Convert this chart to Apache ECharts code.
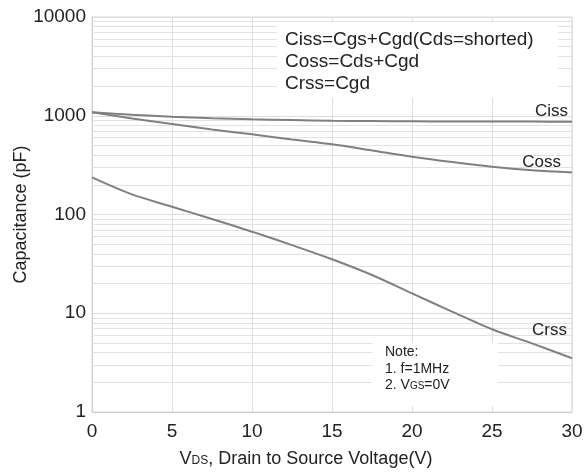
<!DOCTYPE html>
<html><head><meta charset="utf-8">
<script src="https://cdn.jsdelivr.net/npm/echarts@6/dist/echarts.min.js"></script>
<style>html,body{margin:0;padding:0;background:#fff}#c{width:586px;height:473px}</style>
</head><body><div id="c"></div>
<script>
var vds = [0, 2.5, 5, 7.5, 10, 12.5, 15, 17.5, 20, 22.5, 25, 27.5, 30];
var ciss = [1084, 1025, 978, 945, 921, 904, 891, 884, 879, 875, 873, 872, 871];
var coss = [1084, 940, 825, 726, 649, 574, 514, 445, 385, 340, 305, 281, 267];
var crss = [238, 160, 120, 90, 67, 49, 35.2, 24.4, 15.9, 10.4, 6.88, 4.95, 3.5];
var yTicks = [1, 10, 100, 1000, 10000];
var minorGrid = [2,3,4,5,6,7,8,9,20,30,40,50,60,70,80,90,200,300,400,500,600,700,800,900,2000,3000,4000,5000,6000,7000,8000,9000];

function pairs(v){ return vds.map(function(x,i){ return [x, v[i]]; }); }
var font = '"Liberation Sans", Arial, sans-serif';
var chart = echarts.init(document.getElementById('c'));
function lineSeries(name, vals, lbl, off, extra){
  var s = {
    name: name, type: 'line', data: pairs(vals), smooth: 0.3, showSymbol: false, symbol: 'none',
    lineStyle: {color: '#808080', width: 2}, z: 5,
    markPoint: {
      symbol: 'rect', symbolSize: 0, silent: true,
      data: [{coord: [vds[vds.length-1], vals[vals.length-1]],
        label: {show: true, formatter: lbl, position: 'top', align: 'right', offset: off,
          color: '#222', fontSize: 17, fontFamily: font}}]
    }
  };
  if (extra) s.markLine = extra;
  return s;
}
chart.setOption({
  animation: false,
  grid: {left: 92, right: 14, top: 17, bottom: 61, show: true, borderColor: '#d8d8d8', borderWidth: 1, outerBoundsMode: 'none', containLabel: false},
  xAxis: {
    type: 'value', min: 0, max: 30, interval: 5,
    axisLine: {lineStyle: {color: '#d0d0d0'}}, axisTick: {show: false},
    axisLabel: {color: '#222', fontSize: 19, fontFamily: font, margin: 10},
    splitLine: {show: true, lineStyle: {color: '#dedede', width: 1}},
    name: '{v|V}{s|DS}{v|, Drain to Source Voltage(V)}', nameLocation: 'middle', nameGap: 38,
    nameTextStyle: {padding: [0, 52, 0, 0], rich: {v: {fontSize: 18, color: '#222', fontFamily: font}, s: {fontSize: 12, color: '#222', fontFamily: font, padding:[3,0,0,0]}}}
  },
  yAxis: {
    type: 'log', logBase: 10, min: 1, max: 10000,
    axisLine: {show: true, lineStyle: {color: '#d0d0d0'}}, axisTick: {show: false},
    axisLabel: {color: '#222', fontSize: 19, fontFamily: font, margin: 6,
      formatter: function(v){ return yTicks.indexOf(Math.round(v)) >= 0 ? String(Math.round(v)) : ''; }},
    splitLine: {show: true, lineStyle: {color: '#dedede', width: 1}},
    name: 'Capacitance (pF)', nameLocation: 'middle', nameGap: 62, nameMoveOverlap: false,
    nameTextStyle: {color: '#222', fontSize: 18, fontFamily: font}
  },
  series: [
    lineSeries('Ciss', ciss, 'Ciss', [-4, 3], {
      silent: true, symbol: 'none', label: {show: false},
      lineStyle: {color: '#e2e2e2', width: 1, type: 'solid'},
      data: minorGrid.map(function(v){ return {yAxis: v}; }), z: 1
    }),
    lineSeries('Coss', coss, 'Coss', [-11, 3]),
    lineSeries('Crss', crss, 'Crss', [-5, -14])
  ],
  graphic: [
    {type: 'rect', z: 100, shape: {x: 277, y: 22, width: 281, height: 76}, style: {fill: '#fff'}},
    {type: 'text', z: 101, left: 285, top: 30, style: {text: 'Ciss=Cgs+Cgd(Cds=shorted)', font: '19px ' + font, fill: '#222'}},
    {type: 'text', z: 101, left: 285, top: 52, style: {text: 'Coss=Cds+Cgd', font: '19px ' + font, fill: '#222'}},
    {type: 'text', z: 101, left: 285, top: 74, style: {text: 'Crss=Cgd', font: '19px ' + font, fill: '#222'}},
    {type: 'rect', z: 100, shape: {x: 372, y: 343, width: 126, height: 63}, style: {fill: '#fff'}},
    {type: 'text', z: 101, left: 385, top: 345, style: {text: 'Note:', font: '14px ' + font, fill: '#222'}},
    {type: 'text', z: 101, left: 385, top: 362, style: {text: '1. f=1MHz', font: '14px ' + font, fill: '#222'}},
    {type: 'text', z: 101, left: 385, top: 378, style: {text: '{a|2. V}{b|GS}{a|=0V}', rich: {a: {font: '14px ' + font, fill: '#222'}, b: {font: '10px ' + font, fill: '#222', padding:[2,0,0,0]}}}}
  ]
});
</script></body></html>
